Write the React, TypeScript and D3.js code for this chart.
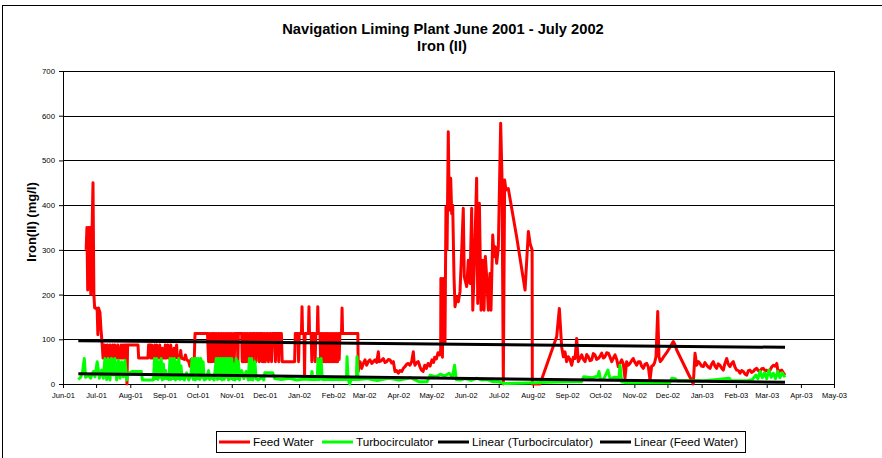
import React, { useEffect, useRef } from "react";
import * as d3 from "d3";

// day offsets are counted from 1 Jun 2001
const START = Date.UTC(2001, 5, 1);
const xDomain = [new Date(Date.UTC(2001, 5, 1)), new Date(Date.UTC(2003, 4, 1))];
const yTicks = [0, 100, 200, 300, 400, 500, 600, 700];

const titleLines = ["Navigation Liming Plant June 2001 - July 2002", "Iron (II)"];
const yLabel = "Iron(II) (mg/l)";
const legendNames = ["Feed Water", "Turbocirculator", "Linear (Turbocirculator)", "Linear (Feed Water)"];

// [day, mg/l]
const feedWater: [number, number][] = [
  [21, 300], [21.7, 350], [22.4, 210], [23.1, 350], [23.8, 290], [24.5, 350], [25.2, 200], [26, 300],
  [27.2, 450], [28, 200], [28.7, 170], [30, 170], [31, 165], [31.6, 110], [32.2, 170], [33.5, 160],
  [34.5, 120], [35.5, 90], [36.3, 58], [37.2, 58], [37.8, 87], [38.5, 58], [39.5, 58], [40.2, 87],
  [41, 58], [42, 58], [42.7, 87], [43.4, 58], [44.5, 58], [45.2, 87], [46, 58], [47, 87], [47.7, 58],
  [49, 58], [49.7, 87], [50.5, 58], [52, 58], [52.7, 87], [53.5, 58], [54.5, 87], [55.3, 58], [56.2, 87],
  [57.5, 87], [58, 0], [58.6, 87], [68, 87], [68.6, 58], [77, 58], [77.6, 87], [79, 87], [79.6, 58],
  [80.5, 87], [81.3, 58], [82.5, 58], [83.2, 87], [84, 58], [85, 87], [85.8, 58], [87, 58], [87.7, 87],
  [88.5, 58], [90, 80], [90.7, 58], [92, 58], [92.7, 87], [93.5, 58], [95, 87], [95.7, 58], [97, 58],
  [97.7, 87], [98.5, 58], [100, 58], [100.7, 80], [101.5, 58], [103, 87], [103.7, 58], [106, 58],
  [106.7, 75], [107.5, 58], [110, 55], [111, 65], [112, 55], [114, 50], [115, 40], [116, 55], [119, 55],
  [119.7, 113], [131, 113], [132, 50], [132.7, 113], [133.5, 50], [134.2, 113], [135, 50], [135.7, 113],
  [136.5, 113], [137.2, 50], [138, 113], [138.7, 50], [139.5, 113], [140.2, 50], [141, 113], [141.7, 50],
  [142.5, 113], [143.2, 50], [144, 113], [144.7, 50], [145.5, 113], [146.2, 50], [147, 113], [147.7, 50],
  [148.5, 113], [149.2, 50], [150, 113], [150.7, 50], [151.5, 113], [152.2, 50], [153, 113], [153.7, 50],
  [154.5, 113], [155.2, 50], [156, 113], [158, 113], [158.5, 50], [159, 113], [162, 113], [162.5, 50],
  [163.2, 113], [163.9, 50], [164.6, 113], [165.3, 50], [166, 113], [166.7, 50], [167.4, 113], [168.1, 50],
  [168.8, 113], [169.5, 50], [170.2, 113], [171, 113], [172, 50], [172.6, 113], [174, 113], [175, 50],
  [175.6, 113], [177, 113], [178, 50], [178.6, 113], [180, 113], [180.7, 50], [181.4, 113], [182.1, 50],
  [182.8, 113], [183.5, 50], [184.2, 113], [184.9, 60], [185.6, 113], [186.3, 50], [187, 113], [187.7, 55],
  [188.4, 113], [189.1, 50], [190, 113], [192, 113], [192.6, 50], [193.2, 113], [195, 113], [195.6, 50],
  [196.2, 113], [198, 113], [198.7, 50], [210, 50], [210.6, 113], [213, 113], [213.6, 50], [214.2, 113],
  [216.2, 113], [216.7, 173], [217.2, 113], [218.5, 113], [219, 20], [219.5, 113], [222.5, 113], [223, 173],
  [223.5, 113], [225, 113], [225.6, 50], [226.2, 113], [228, 113], [228.6, 50], [229.2, 113], [230.5, 113],
  [231, 173], [231.5, 113], [233, 113], [233.6, 50], [234.3, 113], [235, 50], [235.7, 113], [236.4, 50],
  [237.1, 113], [237.8, 50], [238.5, 113], [239.2, 50], [239.9, 113], [240.6, 50], [241.3, 113], [242, 50],
  [242.7, 113], [243.4, 50], [244.1, 113], [244.8, 50], [245.5, 113], [246.2, 50], [246.9, 113], [247.6, 50],
  [248.3, 113], [249, 50], [249.7, 113], [250.4, 55], [251, 113], [252.5, 113], [253, 170], [253.5, 113],
  [267.3, 113], [267.7, 28], [268.5, 50], [269.3, 50], [270.8, 35], [272.3, 46], [273.8, 54], [275.3, 42],
  [276.8, 50], [278.3, 54], [279.9, 46], [281.4, 50], [282.9, 54], [284.4, 48], [285.9, 72], [286.6, 50],
  [288.5, 52], [290.4, 57], [292, 48], [293.5, 50], [295, 55], [296.5, 54], [298, 47], [299.5, 50],
  [301, 28], [302.5, 30], [304, 24], [305.5, 30], [307.1, 28], [308.6, 35], [310.1, 39], [311.5, 44],
  [313, 46], [314.5, 42], [316.1, 50], [317.6, 72], [318.3, 50], [319.1, 42], [320.6, 48], [322.1, 50],
  [323.7, 38], [325, 31], [326.4, 28], [328, 42], [329.5, 35], [331, 46], [332.8, 40], [334.5, 54],
  [336, 48], [337, 60], [338.5, 56], [340, 70], [341.3, 65], [342.4, 76], [342.6, 236], [343.2, 76],
  [344, 60], [344.8, 236], [345.5, 236], [346.3, 90], [347.2, 396], [348.2, 300], [349.3, 564], [350.2, 389],
  [351.5, 460], [352.4, 381], [353.3, 400], [354.5, 240], [355.4, 173], [356.9, 195], [358.4, 184],
  [359.9, 206], [361.5, 300], [362.9, 393], [363.8, 240], [366, 218], [367.5, 277], [369, 225], [370.5, 393],
  [371.5, 165], [372.9, 262], [375, 460], [376, 180], [377.5, 404], [379, 165], [380.5, 277], [381.7, 165],
  [382.9, 285], [384.1, 240], [385.6, 165], [387.1, 247], [388, 165], [389.6, 333], [390.8, 285],
  [391.9, 307], [393.2, 270], [394.7, 307], [395.6, 426], [396.8, 583], [398, 463], [399.2, 0], [400.4, 456],
  [401.6, 434], [403.7, 437], [411.3, 329], [418.9, 210], [421.9, 341], [423.5, 314], [425.3, 300],
  [425.5, 0], [432.5, 0], [447.6, 106], [450, 169], [452.1, 83], [453.6, 61], [455.1, 72], [456.6, 50],
  [458.1, 61], [459.6, 55], [461.2, 42], [462.7, 60], [464.2, 57], [465.7, 102], [467.2, 50], [468.8, 58],
  [470.3, 65], [471.8, 55], [473.3, 50], [474.8, 66], [476.2, 61], [477.8, 52], [479.3, 54], [480.8, 68],
  [482.3, 65], [483.8, 55], [485.3, 57], [486.9, 62], [488.4, 69], [489.9, 58], [491.4, 61], [492.9, 70],
  [494.4, 69], [496, 60], [497.5, 50], [499, 58], [500.5, 65], [502, 55], [503.4, 39], [505, 47],
  [506.5, 54], [508, 45], [509.5, 13], [511, 50], [512.5, 42], [514, 46], [515.5, 52], [517, 57],
  [518.6, 48], [520.1, 42], [521.6, 50], [523.1, 50], [524.6, 40], [526.1, 35], [527.6, 44], [529.2, 46],
  [530.7, 38], [532.2, 9], [533.7, 40], [535.2, 42], [536.4, 48], [537.6, 61], [539.2, 162], [540.3, 61],
  [541.5, 50], [542.8, 54], [544.3, 60], [545.8, 65], [547.3, 70], [548.8, 76], [551, 85], [553.3, 95],
  [554.8, 88], [556.4, 76], [571.4, 0], [573, 69], [574.5, 42], [576, 50], [577.5, 46], [579, 40],
  [580.5, 39], [582, 48], [583.6, 42], [585, 38], [586.6, 35], [588, 44], [589.6, 50], [591, 40],
  [592.6, 35], [594, 45], [595.6, 42], [597, 36], [598.6, 31], [600, 45], [601.7, 57], [603.2, 44],
  [604.7, 39], [606.2, 46], [607.7, 50], [609.2, 38], [610.8, 31], [612.3, 30], [613.8, 24], [615.3, 30],
  [616.8, 28], [618.4, 22], [619.9, 20], [621.4, 30], [622.8, 31], [624.3, 26], [625.8, 28], [627.4, 33],
  [628.9, 35], [630.4, 30], [631.9, 28], [633.4, 34], [634.9, 35], [636.5, 30], [638, 31], [639.5, 27],
  [641, 31], [642.5, 38], [644, 42], [645.6, 40], [647.1, 46], [648.5, 24], [650, 30], [651.6, 31],
  [653.1, 25], [654.6, 20],
];

const turbocirculator: [number, number][] = [
  [13.9, 10], [16, 15], [17.8, 28], [19.3, 57], [20.5, 15], [23, 20], [25, 13], [27.5, 28], [29, 16],
  [31, 50], [33, 13], [35, 31], [36.6, 13], [38, 57], [39.6, 10], [41, 57], [42.6, 9], [44, 57], [45.6, 20],
  [47, 57], [48.6, 9], [50.2, 53], [51.7, 13], [53.2, 50], [54.7, 16], [56.2, 53], [57.7, 9], [59.2, 24],
  [62.3, 28], [71, 28], [72, 9], [82, 9], [83, 57], [84, 12], [85, 57], [86, 10], [87, 50], [88, 15],
  [89, 57], [90, 9], [91, 45], [92, 12], [93, 30], [94, 12], [95, 20], [96, 10], [97, 57], [98, 10],
  [99, 57], [100, 12], [101, 57], [102, 9], [103, 50], [104, 12], [105, 57], [106, 10], [107, 40],
  [108, 12], [109, 20], [110, 9], [112, 25], [114, 9], [116, 20], [117, 57], [118, 10], [119, 57], [120, 9],
  [121, 57], [122, 12], [123, 57], [124, 10], [125, 57], [126, 15], [127, 50], [128, 9], [130, 12],
  [132, 30], [133, 10], [135, 15], [137, 9], [139, 57], [140, 10], [141, 57], [142, 12], [143, 57],
  [144, 9], [145, 57], [146, 10], [147, 57], [148, 15], [149, 57], [150, 9], [151, 57], [152, 12],
  [153, 57], [154, 10], [155, 45], [156, 9], [157, 57], [158, 12], [159, 50], [160, 9], [162, 30],
  [164, 12], [166, 28], [168, 9], [169, 57], [170, 10], [171, 57], [172, 9], [174, 50], [175, 12],
  [177, 9], [180, 15], [182, 9], [183, 25], [190, 25], [192, 12], [198, 10], [205, 13], [212, 9],
  [219, 11], [225, 10], [225.7, 28], [226.5, 10], [230.5, 10], [231.2, 57], [232.5, 10], [234, 57],
  [235, 10], [245, 10], [257, 10], [257.5, 61], [258.5, 10], [260, 0], [261, 10], [266, 10], [266.5, 61],
  [267.5, 10], [275, 12], [285, 8], [295, 13], [305, 9], [315, 14], [323, 5], [330, 5], [333, 20],
  [338, 16], [342, 22], [346, 18], [350, 24], [353, 15], [355, 42], [356.5, 10], [360, 9], [365, 12],
  [370, 8], [375, 13], [380, 9], [385, 10], [390, 5], [395, 5], [400, 1], [420, 2], [440, 4], [460, 5],
  [470, 5], [472, 16], [480, 14], [485, 18], [486, 28], [487, 12], [490, 10], [494, 31], [496, 12],
  [500, 15], [504, 14], [505, 42], [506.5, 5], [510, 3], [530, 3], [550, 3], [552, 13], [555, 12],
  [557, 7], [580, 7], [604, 13], [606, 7], [620, 7], [625, 10], [628, 20], [630, 12], [632, 28], [634, 14],
  [636, 25], [638, 12], [640, 31], [642, 15], [644, 24], [646, 12], [648, 28], [650, 14], [652, 25],
  [654.6, 15],
];

// end points of the Excel linear trendlines
const turboTrend: [number, number][] = [[13.9, 23], [654.6, 4]];
const feedTrend: [number, number][] = [[13.9, 97], [654.6, 82]];

const colors = ["#ff0000", "#00ff00", "#000000", "#000000"];

function App() {
  const ref = useRef<SVGSVGElement>(null);

  useEffect(() => {
    const svg = d3.select(ref.current);
    svg.selectAll("*").remove();

    const left = 63, right = 834, top = 71, bottom = 384;
    const font = "'Liberation Sans', Arial, sans-serif";

    const x = d3.scaleUtc().domain(xDomain).range([left, right]);
    const y = d3.scaleLinear().domain([0, 700]).range([bottom, top]);
    const day = (d: number) => new Date(START + d * 864e5);

    // chart area border
    svg.append("rect").attr("x", 2.5).attr("y", 5.5).attr("width", 900).attr("height", 500)
      .attr("fill", "#fff").attr("stroke", "#000");

    // gridlines
    svg.append("g").selectAll("line").data(yTicks.slice(1)).join("line")
      .attr("x1", left).attr("x2", right)
      .attr("y1", (d) => Math.round(y(d)) + 0.5).attr("y2", (d) => Math.round(y(d)) + 0.5)
      .attr("stroke", "#000").attr("stroke-width", 1);
    svg.append("line").attr("x1", right + 0.5).attr("x2", right + 0.5)
      .attr("y1", top).attr("y2", bottom).attr("stroke", "#000");

    // axes
    const yAxis = svg.append("g").attr("transform", `translate(${left},0)`)
      .call(d3.axisLeft(y).tickValues(yTicks).tickSize(4).tickSizeOuter(0).tickPadding(4));
    yAxis.selectAll("text").attr("font-family", font).attr("font-size", 7.8).attr("fill", "#000");

    const xAxis = svg.append("g").attr("transform", `translate(0,${bottom})`)
      .call(d3.axisBottom(x).ticks(d3.utcMonth.every(1)).tickFormat(d3.utcFormat("%b-%y") as any)
        .tickSize(4).tickSizeOuter(0));
    xAxis.selectAll("text").attr("font-family", font).attr("font-size", 7.5).attr("fill", "#000")
      .attr("y", 14).attr("dy", 0);
    svg.selectAll(".domain, .tick line").attr("stroke", "#000");

    // series
    const line = d3.line<[number, number]>()
      .x((d) => x(day(d[0])))
      .y((d) => y(d[1]));
    const series = [feedWater, turbocirculator, turboTrend, feedTrend];
    svg.append("g").selectAll("path").data(series).join("path")
      .attr("d", (d) => line(d))
      .attr("fill", "none")
      .attr("stroke", (_, i) => colors[i])
      .attr("stroke-width", 3)
      .attr("stroke-linejoin", "round");

    // titles
    svg.append("text").attr("x", 443).attr("y", 34).attr("text-anchor", "middle")
      .attr("font-family", font).attr("font-weight", "bold").attr("font-size", 14.7).text(titleLines[0]);
    svg.append("text").attr("x", 442).attr("y", 51).attr("text-anchor", "middle")
      .attr("font-family", font).attr("font-weight", "bold").attr("font-size", 14.7).text(titleLines[1]);
    svg.append("text").attr("transform", "translate(36,222) rotate(-90)").attr("text-anchor", "middle")
      .attr("font-family", font).attr("font-weight", "bold").attr("font-size", 13).text(yLabel);

    // legend
    const lg = svg.append("g");
    lg.append("rect").attr("x", 216.5).attr("y", 431.5).attr("width", 529).attr("height", 21)
      .attr("fill", "#fff").attr("stroke", "#000");
    const itemX = [219, 322, 438, 600];
    legendNames.forEach((name, i) => {
      lg.append("line").attr("x1", itemX[i]).attr("x2", itemX[i] + 31).attr("y1", 442).attr("y2", 442)
        .attr("stroke", colors[i]).attr("stroke-width", 3);
      lg.append("text").attr("x", itemX[i] + 34).attr("y", 446).attr("font-family", font)
        .attr("font-size", 11.7).text(name);
    });
  }, []);

  return (
    <svg ref={ref} width={882} height={458}
      style={{ position: "absolute", left: 0, top: 0, background: "#fff" }} />
  );
}

export default App;
